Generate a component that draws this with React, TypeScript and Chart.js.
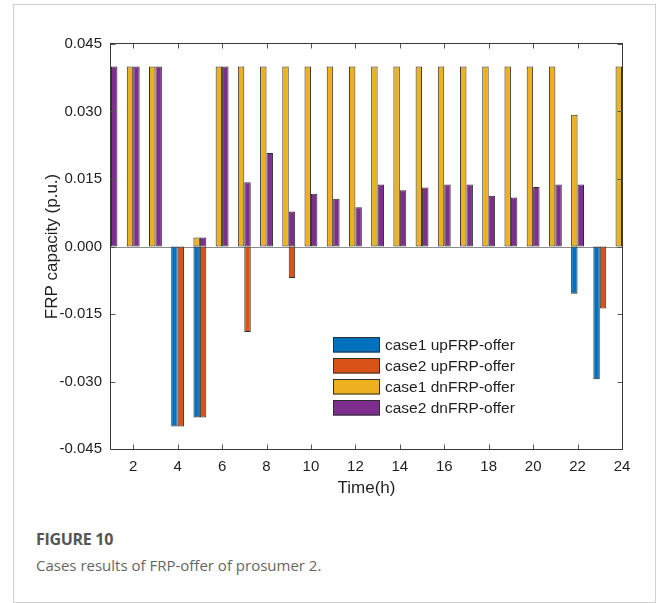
import { useEffect, useRef } from "react";
import { Chart, registerables } from "chart.js";

Chart.register(...registerables);

// Hour of the day (x positions of the bar groups)
const hours = [1, 2, 3, 4, 5, 6, 7, 8, 9, 10, 11, 12, 13, 14, 15, 16, 17, 18, 19, 20, 21, 22, 23, 24];

// Up-regulation FRP offers (negative direction), p.u.
const case1UpOffer = [null, null, null, -0.04, -0.038, null, null, null, null, null, null, null, null, null, null, null, null, null, null, null, null, -0.0105, -0.0295, null];
const case2UpOffer = [null, null, null, -0.04, -0.038, null, -0.019, null, -0.007, null, null, null, null, null, null, null, null, null, null, null, null, null, -0.0138, null];

// Down-regulation FRP offers (positive direction), p.u.
const case1DnOffer = [0.04, 0.04, 0.04, null, 0.002, 0.04, 0.04, 0.04, 0.04, 0.04, 0.04, 0.04, 0.04, 0.04, 0.04, 0.04, 0.04, 0.04, 0.04, 0.04, 0.04, 0.0293, null, 0.04];
const case2DnOffer = [0.04, 0.04, 0.04, null, 0.002, 0.04, 0.0143, 0.0208, 0.0078, 0.0117, 0.0106, 0.0087, 0.0138, 0.0125, 0.0131, 0.0138, 0.0138, 0.0113, 0.0109, 0.0132, 0.0138, 0.0138, null, 0.0138];

const seriesLabels = ["case1 upFRP-offer", "case2 upFRP-offer", "case1 dnFRP-offer", "case2 dnFRP-offer"];

const xTickValues = [2, 4, 6, 8, 10, 12, 14, 16, 18, 20, 22, 24];
const yTickValues = [-0.045, -0.03, -0.015, 0, 0.015, 0.03, 0.045];

const COLORS = {
  blue: "#0072BD",
  orange: "#D95319",
  yellow: "#EDB120",
  purple: "#7E2F8E",
};
const EDGE = "#2e2e2e";
const TEXT = "#1f1f1f";
const FONT = "'Liberation Sans', Arial, Helvetica, sans-serif";

// Box around the plot, inward ticks on all four sides, zero baseline and legend
const axesBoxPlugin = {
  id: "axesBox",
  beforeDatasetsDraw(chart: any) {
    const { ctx, chartArea: a, scales } = chart;
    const y0 = Math.round(scales.y.getPixelForValue(0)) + 0.5;
    ctx.save();
    ctx.strokeStyle = "#8c8c8c";
    ctx.lineWidth = 1;
    ctx.beginPath();
    ctx.moveTo(a.left, y0);
    ctx.lineTo(a.right, y0);
    ctx.stroke();
    ctx.restore();
  },
  afterDatasetsDraw(chart: any) {
    const { ctx, chartArea: a, scales } = chart;
    const L = a.left - 0.5;
    const R = a.right + 0.5;
    const T = a.top - 0.5;
    const B = a.bottom + 0.5;
    const tick = 5;
    ctx.save();
    ctx.lineWidth = 1;
    ctx.strokeStyle = "#555";
    ctx.beginPath();
    for (const v of xTickValues) {
      const px = Math.round(scales.x.getPixelForValue(v)) + 0.5;
      ctx.moveTo(px, T);
      ctx.lineTo(px, T + tick);
      ctx.moveTo(px, B);
      ctx.lineTo(px, B - tick);
    }
    for (const v of yTickValues) {
      const py = Math.round(scales.y.getPixelForValue(v)) + 0.5;
      ctx.moveTo(L, py);
      ctx.lineTo(L + tick, py);
      ctx.moveTo(R, py);
      ctx.lineTo(R - tick, py);
    }
    ctx.stroke();
    ctx.strokeStyle = "#3a3a3a";
    ctx.strokeRect(L, T, R - L, B - T);
    ctx.restore();
  },
  afterDraw(chart: any) {
    const { ctx, chartArea: a } = chart;
    const x0 = a.left + 222;
    const y0 = a.top + 293;
    const rowH = 21;
    const sw = 47;
    const sh = 15.5;
    ctx.save();
    ctx.font = `15.5px ${FONT}`;
    ctx.textBaseline = "middle";
    ctx.textAlign = "left";
    chart.data.datasets.forEach((ds: any, i: number) => {
      const top = y0 + i * rowH;
      ctx.fillStyle = ds.backgroundColor;
      ctx.fillRect(x0, top, sw, sh);
      ctx.strokeStyle = EDGE;
      ctx.lineWidth = 1;
      ctx.strokeRect(x0 + 0.5, top + 0.5, sw - 1, sh - 1);
      ctx.fillStyle = TEXT;
      ctx.fillText(ds.label, x0 + sw + 5, top + sh / 2 + 0.5);
    });
    ctx.restore();
  },
};

function makeDataset(label: string, data: (number | null)[], color: string, stack: string) {
  return {
    label,
    data,
    stack,
    backgroundColor: color,
    borderColor: EDGE,
    borderWidth: 1,
    borderSkipped: false,
    barPercentage: 1,
    categoryPercentage: 0.58,
    clip: 0,
  };
}

export default function App() {
  const canvasRef = useRef<HTMLCanvasElement | null>(null);

  useEffect(() => {
    const canvas = canvasRef.current;
    if (!canvas) return;
    const chart = new Chart(canvas, {
      type: "bar",
      data: {
        labels: hours,
        datasets: [
          makeDataset(seriesLabels[0], case1UpOffer, COLORS.blue, "case1"),
          makeDataset(seriesLabels[1], case2UpOffer, COLORS.orange, "case2"),
          makeDataset(seriesLabels[2], case1DnOffer, COLORS.yellow, "case1"),
          makeDataset(seriesLabels[3], case2DnOffer, COLORS.purple, "case2"),
        ] as any,
      },
      options: {
        responsive: false,
        animation: false,
        devicePixelRatio: 1,
        layout: { padding: { left: 0, right: 36, top: 44, bottom: 11 } },
        plugins: {
          legend: { display: false },
          tooltip: { enabled: false },
        },
        scales: {
          x: {
            type: "linear",
            min: 1,
            max: 24,
            offset: false,
            afterBuildTicks: (s: any) => {
              s.ticks = xTickValues.map((v) => ({ value: v }));
            },
            afterFit: (s: any) => {
              s.height = 60;
            },
            ticks: {
              autoSkip: false,
              maxRotation: 0,
              padding: 9,
              color: TEXT,
              font: { family: FONT, size: 15 },
              callback: (v: any) => String(v),
            },
            grid: { display: false, drawTicks: false },
            border: { display: false },
            title: {
              display: true,
              text: "Time(h)",
              color: TEXT,
              font: { family: FONT, size: 17 },
              padding: { top: 0, bottom: 10 },
            },
          },
          y: {
            min: -0.045,
            max: 0.045,
            stacked: true,
            afterBuildTicks: (s: any) => {
              s.ticks = yTickValues.map((v) => ({ value: v }));
            },
            afterFit: (s: any) => {
              s.width = 111;
            },
            ticks: {
              padding: 9,
              color: TEXT,
              font: { family: FONT, size: 15 },
              callback: (v: any) => Number(v).toFixed(3),
            },
            grid: { display: false, drawTicks: false },
            border: { display: false },
            title: {
              display: true,
              text: "FRP capacity (p.u.)",
              color: TEXT,
              font: { family: FONT, size: 17 },
              padding: { top: 42, bottom: 0 },
            },
          },
        },
      } as any,
      plugins: [axesBoxPlugin],
    });
    return () => chart.destroy();
  }, []);

  return (
    <div style={{ position: "absolute", left: 0, top: 0, width: 658, height: 603, background: "#fff" }}>
      <div
        style={{
          position: "absolute",
          left: 13,
          top: 4,
          width: 643,
          height: 599,
          boxSizing: "border-box",
          border: "1px solid #cfcfcf",
        }}
      />
      <canvas
        ref={canvasRef}
        width={658}
        height={520}
        style={{ position: "absolute", left: 0, top: 0, width: 658, height: 520 }}
      />
      <div
        style={{
          position: "absolute",
          left: 36,
          top: 529,
          fontFamily: "'Open Sans', 'Noto Sans', sans-serif",
          fontWeight: 700,
          fontSize: 16,
          letterSpacing: "-0.3px",
          lineHeight: "20px",
          color: "#555",
          whiteSpace: "nowrap",
        }}
      >
        FIGURE 10
      </div>
      <div
        style={{
          position: "absolute",
          left: 36,
          top: 555,
          fontFamily: "'Open Sans', 'Noto Sans', sans-serif",
          fontWeight: 400,
          fontSize: 15,
          lineHeight: "20px",
          color: "#666",
          whiteSpace: "nowrap",
        }}
      >
        Cases results of FRP-offer of prosumer 2.
      </div>
    </div>
  );
}
